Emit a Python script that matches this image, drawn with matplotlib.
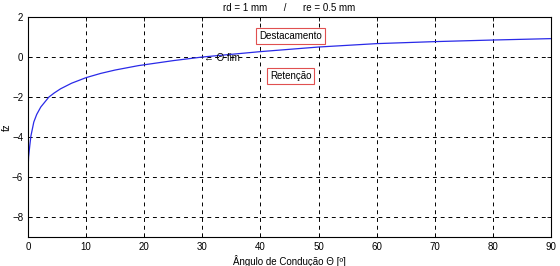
import matplotlib
matplotlib.use("Agg")
import matplotlib.pyplot as plt

plt.rcParams['font.family'] = ['Liberation Sans', 'DejaVu Sans']

theta = [0, 0.1, 0.3, 0.5, 1.0, 1.5, 2.2, 3.6, 4.5, 5.6, 7.5, 10, 12.5, 15, 19, 25, 30,
         40, 50, 60, 70, 80, 90]
fz = [-5.7, -5.0, -4.45, -3.95, -3.25, -2.87, -2.5, -2.0, -1.8, -1.59, -1.31, -1.03,
      -0.82, -0.65, -0.43, -0.18, 0.0, 0.27, 0.5, 0.67, 0.77, 0.85, 0.92]
xticks = [0, 10, 20, 30, 40, 50, 60, 70, 80, 90]
yticks = [-8, -6, -4, -2, 0, 2]

fig = plt.figure(figsize=(5.6, 2.66), dpi=100)
ax = fig.add_axes([0.05, 0.109, 0.934, 0.827])
ax.plot(theta, fz, color='#2a2ae8', lw=0.9)
ax.set_xlim(0, 90)
ax.set_ylim(-9, 2)
ax.set_xticks(xticks)
ax.set_yticks(yticks)
ax.grid(True, color='black', linestyle=(0, (4, 4)), linewidth=0.7)
ax.tick_params(direction='in', labelsize=7, length=3, top=True, right=True, width=0.6)
for s in ax.spines.values():
    s.set_linewidth(0.8)
ax.set_xlabel('Ângulo de Condução Θ [º]', fontsize=7, labelpad=2)
ax.set_ylabel('fz', fontsize=7)
ax.yaxis.set_label_coords(-0.031, 0.5)
ax.set_title('rd = 1 mm      /      re = 0.5 mm', fontsize=7, pad=4)

box = dict(boxstyle='square,pad=0.3', facecolor='white', edgecolor='#e05050', linewidth=0.8)
ax.text(45.2, 1.05, 'Destacamento', fontsize=7, ha='center', va='center', bbox=box)
ax.text(45.2, -0.95, 'Retenção', fontsize=7, ha='center', va='center', bbox=box)
ax.text(30.3, -0.05, '← Θ fim', fontsize=7, ha='left', va='center')

fig.savefig('out.png', dpi=100)
